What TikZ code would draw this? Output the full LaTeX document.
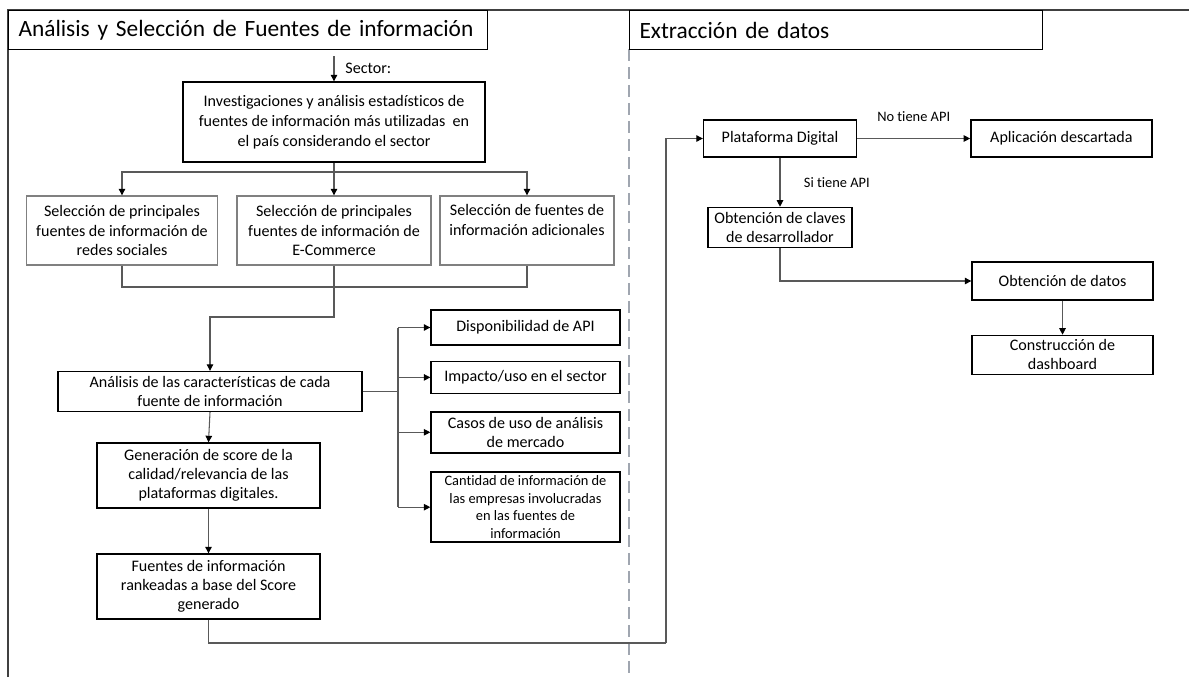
\documentclass[tikz,border=0pt]{standalone}
\usepackage{fontspec}
\setmainfont{Carlito}[Ligatures=NoCommon]
\usetikzlibrary{positioning,arrows.meta}
\tikzset{
  caja/.style={draw=black, line width=0.8pt, align=center, inner sep=1pt, font=\fontsize{9.15}{10.9}\selectfont},
  cajagris/.style={caja, draw=black!50},
  flecha/.style={draw=black!65, line width=0.6pt, -{Triangle[length=1.3mm,width=1.3mm,black]}},
  linea/.style={draw=black!65, line width=0.6pt},
  titulo/.style={draw=black, line width=0.6pt, anchor=north west, minimum height=0.78cm, inner xsep=0.2cm, align=left, font=\fontsize{13.3}{16}\selectfont},
  marco/.style={draw=black!75, line width=0.9pt},
  separador/.style={draw={rgb,255:red,160;green,166;blue,176}, line width=1.1pt, dash pattern=on 0.24cm off 0.12cm}
}
\begin{document}
\begin{tikzpicture}[x=0.02cm,y=-0.02cm]
      \useasboundingbox (0,0) rectangle (1189,677);
      \draw[marco] (8,677) -- (8,10) -- (1189,10);
      \draw[separador] (629,49) -- (629,677);

      \node[titulo, text width=9.18cm] (t1) at (8,10) {\mbox{Análisis y Selección de Fuentes de información}};
      \node[titulo, text width=7.86cm] (t2) at (629,10) {\mbox{Extracción de datos}};

      \coordinate (sec) at (334,56);
      \node[caja, minimum width=6.04cm, minimum height=1.6cm, font=\fontsize{9.15}{11.3}\selectfont] (s0) at (334,122) {Investigaciones y análisis estadísticos de\\fuentes de información más utilizadas~ en\\el país considerando el sector};

      \node[cajagris, minimum width=3.82cm, minimum height=1.38cm] (b1) at (122,230.5) {Selección de principales\\fuentes de información de\\redes sociales};
      \node[cajagris, minimum width=3.88cm, minimum height=1.38cm] (b2) at (334,230.5) {Selección de principales\\fuentes de información de\\E-Commerce};
      \node[cajagris, minimum width=3.48cm, minimum height=1.38cm, text depth=12pt] (b3) at (527,230.5) {Selección de fuentes de\\información adicionales};

      \coordinate (ab) at (334,172);
      \coordinate (bm) at (334,287);
      \coordinate (bc) at (334,317);

      \node[caja, minimum width=6.08cm, minimum height=0.8cm] (c0) at (210,391.5) {Análisis de las características de cada\\fuente de información};

      \node[caja, minimum width=3.78cm, minimum height=0.7cm] (d1) at (525.5,327.5) {Disponibilidad de API};
      \node[caja, minimum width=3.78cm, minimum height=0.64cm, below=0.3cm of d1] (d2) {Impacto/uso en el sector};
      \node[caja, minimum width=3.78cm, minimum height=0.82cm, below=0.34cm of d2] (d3) {Casos de uso de análisis\\de mercado};
      \node[caja, minimum width=3.78cm, minimum height=1.4cm, below=0.36cm of d3, font=\fontsize{8.2}{10}\selectfont] (d4) {Cantidad de información de\\las empresas involucradas\\en las fuentes de\\información};
      \coordinate (cd) at (398,391.5);

      \node[caja, minimum width=4.46cm, minimum height=1.3cm] (e0) at (208.5,475.5) {Generación de score de la\\calidad/relevancia de las\\plataformas digitales.};
      \node[caja, minimum width=4.46cm, minimum height=1.3cm] (f0) at (208.5,586.5) {Fuentes de información\\rankeadas a base del Score\\generado};
      \coordinate (fg) at (666,643);

      \node[caja, minimum width=3.06cm, minimum height=0.74cm] (g0) at (780,138.5) {Plataforma Digital};
      \node[caja, minimum width=3.62cm, minimum height=0.74cm, right=2.26cm of g0] (h0) {Aplicación descartada};
      \node[caja, minimum width=2.88cm, minimum height=0.8cm, below=0.98cm of g0] (i0) {Obtención de claves\\de desarrollador};
      \node[caja, minimum width=3.62cm, minimum height=0.76cm] (j0) at (1062.5,281) {Obtención de datos};
      \node[caja, minimum width=3.62cm, minimum height=0.78cm, below=0.68cm of j0] (k0) {Construcción de\\dashboard};

      \draw[flecha] (sec) -- (s0.north) node[midway, right=0.1cm, font=\fontsize{9.15}{11.3}\selectfont] {Sector:};
      \draw[linea] (s0.south) -- (ab);
      \draw[flecha] (ab) -| (b1.north);
      \draw[flecha] (ab) -- (b2.north);
      \draw[flecha] (ab) -| (b3.north);
      \draw[linea] (b1.south) |- (bm) -| (b3.south);
      \draw[flecha] (b2.south) -- (bc) -| (c0.north);
      \draw[linea] (c0.east) -- (cd);
      \draw[linea] (cd |- d1.west) -- (cd |- d4.west);
      \draw[flecha] (cd |- d1.west) -- (d1.west);
      \draw[flecha] (cd |- d2.west) -- (d2.west);
      \draw[flecha] (cd |- d3.west) -- (d3.west);
      \draw[flecha] (cd |- d4.west) -- (d4.west);
      \draw[flecha] (c0.south) -- (e0.north);
      \draw[flecha] (e0.south) -- (f0.north);
      \draw[linea] (f0.south) |- (fg);
      \draw[flecha] (fg) |- (g0.west);
      \draw[flecha] (g0.east) -- (h0.west) node[midway, above=0.22cm, font=\fontsize{8.2}{10}\selectfont] {No tiene API};
      \draw[flecha] (g0.south) -- (i0.north) node[midway, right=0.35cm, font=\fontsize{8.2}{10}\selectfont] {Si tiene API};
      \draw[flecha] (i0.south) |- (j0.west);
      \draw[flecha] (j0.south) -- (k0.north);
\end{tikzpicture}
\end{document}
